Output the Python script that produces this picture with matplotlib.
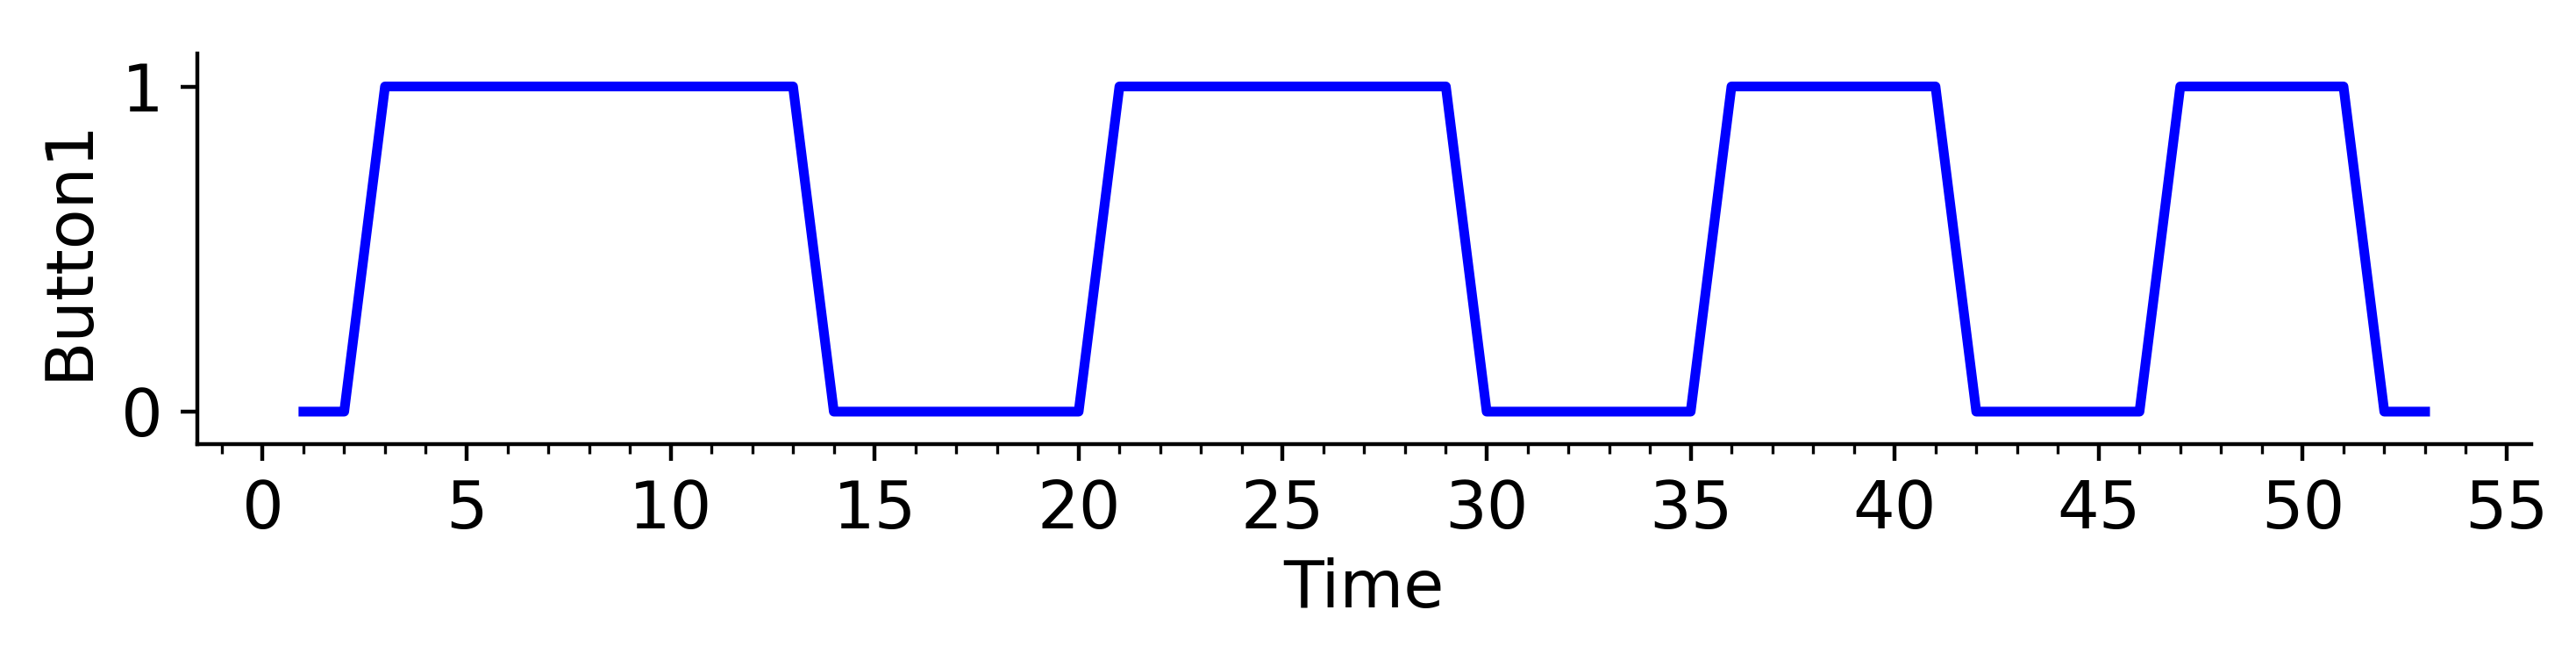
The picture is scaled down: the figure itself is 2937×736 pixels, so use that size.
import matplotlib.pyplot as plt
from matplotlib.ticker import MultipleLocator

time = list(range(1, 54))
button1 = ([0, 0] + [1] * 11 + [0] * 7 + [1] * 9 + [0] * 6
           + [1] * 6 + [0] * 5 + [1] * 5 + [0] * 2)

fig = plt.figure(figsize=(2937 / 400, 736 / 400), dpi=400)
ax = fig.add_axes([0.0766, 0.3125, 0.906, 0.604])

ax.plot(time, button1, color='blue', linewidth=2.0)

ax.set_ylim(-0.1, 1.1)
ax.set_yticks([0, 1])
ax.xaxis.set_major_locator(MultipleLocator(5))
ax.xaxis.set_minor_locator(MultipleLocator(1))
ax.tick_params(labelsize=13.5)
ax.set_xlabel('Time', fontsize=13.5, labelpad=3)
ax.set_ylabel('Button1', fontsize=13.5)
ax.spines['top'].set_visible(False)
ax.spines['right'].set_visible(False)

fig.savefig('out.png', dpi=400)
